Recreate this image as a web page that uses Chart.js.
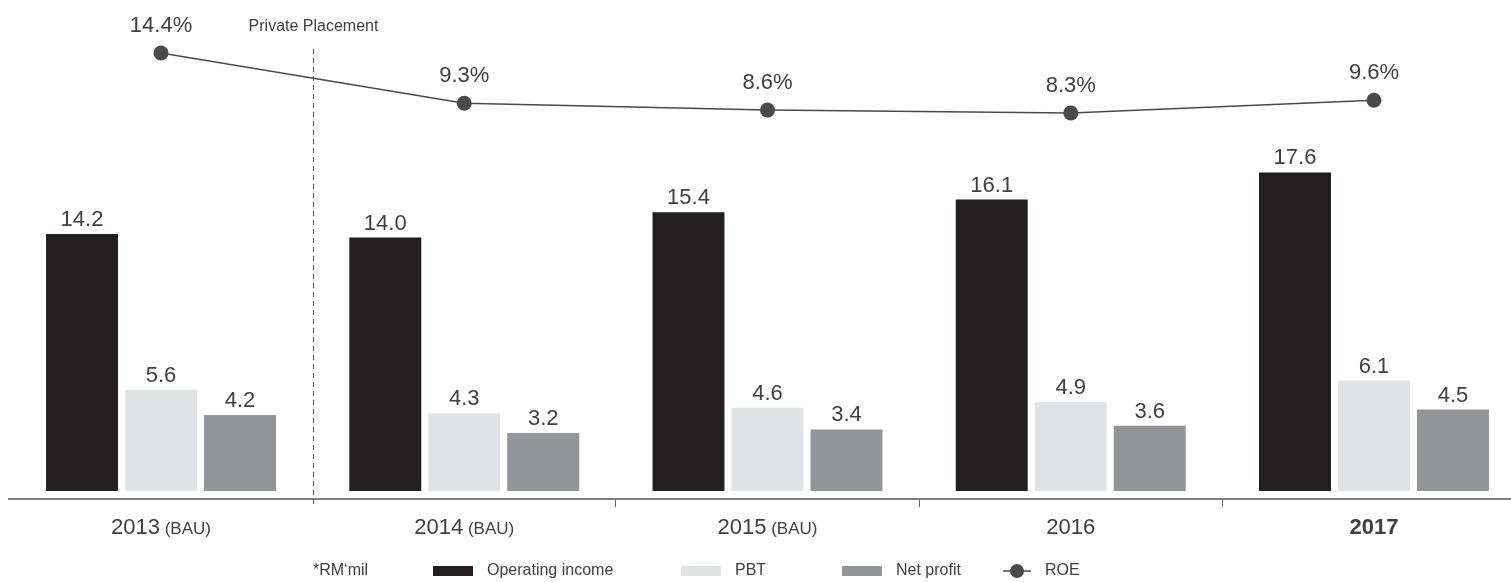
<!DOCTYPE html>
<html>
<head>
<meta charset="utf-8">
<script src="https://cdn.jsdelivr.net/npm/chart.js@4/dist/chart.umd.min.js"></script>
<style>
  html, body { margin: 0; padding: 0; background: #fff; overflow: hidden; }
  #wrap { width: 1511px; height: 582px; overflow: hidden; }
  canvas { display: block; }
</style>
</head>
<body>
<div id="wrap"><canvas id="perfChart" width="1540" height="582" style="width:1540px;height:582px"></canvas></div>
<script>
const years = ['2013', '2014', '2015', '2016', '2017'];
const yearNotes = ['(BAU)', '(BAU)', '(BAU)', '', ''];
const operatingIncome = [14.2, 14.0, 15.4, 16.1, 17.6];
const pbt = [5.6, 4.3, 4.6, 4.9, 6.1];
const netProfit = [4.2, 3.2, 3.4, 3.6, 4.5];
const roe = [14.4, 9.3, 8.6, 8.3, 9.6];

const FONT = '"Liberation Sans", Arial, Helvetica, sans-serif';
const TEXT = '#404042';
const colors = {
    operating: '#231f20',
    pbt: '#e1e2e4',
    net: '#939598',
    roe: '#4a4a4c'
};

// value labels above bars and ROE points
const valueLabels = {
    id: 'valueLabels',
    afterDatasetsDraw(chart) {
        const ctx = chart.ctx;
        ctx.save();
        ctx.fillStyle = TEXT;
        ctx.textAlign = 'center';
        ctx.textBaseline = 'alphabetic';
        ctx.font = '22px ' + FONT;
        chart.data.datasets.forEach((ds, i) => {
            const meta = chart.getDatasetMeta(i);
            meta.data.forEach((el, j) => {
                const v = ds.data[j];
                if (ds.type === 'line') {
                    ctx.fillText(v.toFixed(1) + '%', el.x, el.y - 21);
                } else {
                    ctx.fillText(v.toFixed(1), el.x, el.y - 8);
                }
            });
        });
        ctx.restore();
    }
};

// year labels, divider and legend
const decorations = {
    id: 'decorations',
    afterDraw(chart) {
        const ctx = chart.ctx;
        const x = chart.scales.x;
        ctx.save();

        // dashed divider between 2013 and 2014
        const divX = Math.round((x.getPixelForValue(0) + x.getPixelForValue(1)) / 2) + 0.5;
        ctx.strokeStyle = '#555';
        ctx.lineWidth = 1;
        ctx.setLineDash([5, 4]);
        ctx.beginPath();
        ctx.moveTo(divX, 49);
        ctx.lineTo(divX, 508);
        ctx.stroke();
        ctx.setLineDash([]);

        ctx.fillStyle = TEXT;
        ctx.font = '16px ' + FONT;
        ctx.textAlign = 'center';
        ctx.textBaseline = 'middle';
        ctx.fillText('Private Placement', divX, 27);

        // category labels, "(BAU)" in smaller type, last year bold
        ctx.textAlign = 'left';
        ctx.textBaseline = 'alphabetic';
        years.forEach((y, i) => {
            const cx = x.getPixelForValue(i);
            const bold = i === years.length - 1;
            const mainFont = (bold ? 'bold ' : '') + '22px ' + FONT;
            const noteFont = '17px ' + FONT;
            ctx.font = mainFont;
            const w1 = ctx.measureText(y).width;
            let w2 = 0;
            const note = yearNotes[i] ? ' ' + yearNotes[i] : '';
            if (note) {
                ctx.font = noteFont;
                w2 = ctx.measureText(note).width;
            }
            const left = cx - (w1 + w2) / 2;
            ctx.font = mainFont;
            ctx.fillText(y, left, 534);
            if (note) {
                ctx.font = noteFont;
                ctx.fillText(note, left + w1, 534);
            }
        });

        // legend
        const ly = 571;
        ctx.font = '16px ' + FONT;
        ctx.textBaseline = 'middle';
        ctx.fillStyle = TEXT;
        ctx.fillText('*RM\u2018mil', 313, ly);
        const items = [
            { label: 'Operating income', color: colors.operating, bx: 433 },
            { label: 'PBT', color: colors.pbt, bx: 681 },
            { label: 'Net profit', color: colors.net, bx: 842 }
        ];
        items.forEach(it => {
            ctx.fillStyle = it.color;
            ctx.fillRect(it.bx, ly - 5, 40, 10);
            ctx.fillStyle = TEXT;
            ctx.fillText(it.label, it.bx + 54, ly);
        });
        ctx.strokeStyle = colors.roe;
        ctx.lineWidth = 1.5;
        ctx.beginPath();
        ctx.moveTo(1003, ly);
        ctx.lineTo(1031, ly);
        ctx.stroke();
        ctx.fillStyle = colors.roe;
        ctx.beginPath();
        ctx.arc(1017, ly, 7, 0, Math.PI * 2);
        ctx.fill();
        ctx.fillStyle = TEXT;
        ctx.fillText('ROE', 1045, ly);

        ctx.restore();
    }
};

const ctx = document.getElementById('perfChart').getContext('2d');

new Chart(ctx, {
    type: 'bar',
    data: {
        labels: years,
        datasets: [
            {
                type: 'line',
                label: 'ROE',
                data: roe,
                yAxisID: 'y2',
                borderColor: colors.roe,
                borderWidth: 1.5,
                backgroundColor: colors.roe,
                pointRadius: 7.5,
                pointBorderWidth: 0,
                pointBackgroundColor: colors.roe,
                tension: 0,
                order: 0
            },
            {
                label: 'Operating income',
                data: operatingIncome,
                backgroundColor: colors.operating,
                yAxisID: 'y',
                order: 1
            },
            {
                label: 'PBT',
                data: pbt,
                backgroundColor: colors.pbt,
                yAxisID: 'y',
                order: 1
            },
            {
                label: 'Net profit',
                data: netProfit,
                backgroundColor: colors.net,
                yAxisID: 'y',
                order: 1
            }
        ]
    },
    options: {
        responsive: false,
        animation: false,
        devicePixelRatio: 1,
        layout: {
            padding: { top: 10, left: 9.4, right: 14.4, bottom: 0 }
        },
        datasets: {
            bar: {
                categoryPercentage: 0.7815,
                barPercentage: 0.911
            }
        },
        scales: {
            x: {
                offset: true,
                grid: {
                    offset: true,
                    drawOnChartArea: false,
                    drawTicks: true,
                    tickLength: 8,
                    lineWidth: 1,
                    color: (c) => [2, 3, 4].includes(c.index) ? '#666' : 'transparent'
                },
                border: { display: true, color: '#808080', width: 2 },
                ticks: { display: false },
                afterFit: (scale) => { scale.height = 83; }
            },
            y: {
                display: false,
                min: -0.442,
                max: 26.575
            },
            y2: {
                display: false,
                min: -30.88,
                max: 18.76
            }
        },
        plugins: {
            legend: { display: false },
            tooltip: { enabled: false }
        }
    },
    plugins: [valueLabels, decorations]
});
</script>
</body>
</html>
